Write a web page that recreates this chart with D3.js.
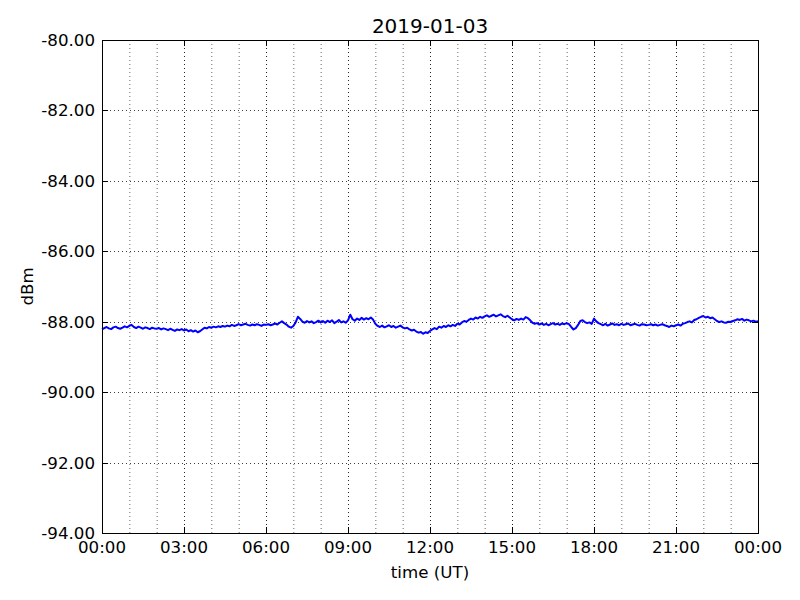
<!DOCTYPE html>
<html>
<head>
<meta charset="utf-8">
<script src="https://cdn.jsdelivr.net/npm/d3@7"></script>
<style>
body{margin:0;background:#fff;}
text{font-family:"DejaVu Sans",sans-serif;}
</style>
</head>
<body>
<svg id="chart" width="800" height="600"></svg>
<script>
const title = "2019-01-03";
const xLabel = "time (UT)";
const yLabel = "dBm";
const xTickHours = [0,3,6,9,12,15,18,21,24];
const xTickLabels = ["00:00","03:00","06:00","09:00","12:00","15:00","18:00","21:00","00:00"];
const yTicks = [-94,-92,-90,-88,-86,-84,-82,-80];
// signal level, one value every 5 minutes, 00:00 to 24:00
const dbm = [
-88.22,-88.18,-88.15,-88.19,-88.21,-88.16,-88.14,-88.18,-88.20,-88.17,-88.13,-88.16,
-88.12,-88.09,-88.15,-88.18,-88.14,-88.17,-88.20,-88.16,-88.18,-88.21,-88.17,-88.19,
-88.20,-88.18,-88.22,-88.19,-88.21,-88.24,-88.20,-88.23,-88.26,-88.22,-88.24,-88.21,
-88.25,-88.22,-88.27,-88.24,-88.28,-88.25,-88.30,-88.27,-88.22,-88.17,-88.19,-88.15,
-88.17,-88.14,-88.16,-88.13,-88.15,-88.12,-88.14,-88.11,-88.13,-88.09,-88.12,-88.10,
-88.07,-88.10,-88.08,-88.06,-88.09,-88.11,-88.08,-88.10,-88.07,-88.09,-88.12,-88.08,
-88.09,-88.07,-88.10,-88.08,-88.05,-88.08,-88.03,-87.99,-88.04,-88.08,-88.14,-88.17,
-88.12,-88.02,-87.86,-87.92,-88.00,-88.03,-87.98,-88.02,-87.99,-88.04,-88.01,-87.97,
-88.02,-87.98,-88.03,-87.97,-88.01,-87.96,-88.04,-88.00,-87.95,-88.02,-87.99,-88.03,
-87.96,-87.80,-87.93,-87.97,-87.91,-87.95,-87.89,-87.94,-87.90,-87.93,-87.88,-87.94,
-88.06,-88.12,-88.15,-88.11,-88.16,-88.13,-88.10,-88.15,-88.12,-88.17,-88.14,-88.11,
-88.16,-88.19,-88.17,-88.22,-88.25,-88.23,-88.28,-88.31,-88.29,-88.34,-88.30,-88.32,
-88.26,-88.22,-88.18,-88.21,-88.14,-88.17,-88.12,-88.15,-88.10,-88.13,-88.09,-88.12,
-88.06,-88.08,-88.02,-87.98,-88.00,-87.95,-87.91,-87.94,-87.88,-87.91,-87.86,-87.89,
-87.85,-87.82,-87.86,-87.83,-87.80,-87.85,-87.82,-87.79,-87.84,-87.87,-87.83,-87.88,
-87.93,-87.96,-87.92,-87.95,-87.91,-87.94,-87.87,-87.90,-87.96,-88.03,-88.06,-88.04,
-88.08,-88.05,-88.09,-88.06,-88.10,-88.07,-88.04,-88.08,-88.06,-88.09,-88.05,-88.07,
-88.04,-88.07,-88.15,-88.22,-88.18,-88.09,-87.98,-87.96,-88.01,-88.04,-88.02,-88.06,
-87.91,-87.99,-88.04,-88.07,-88.10,-88.06,-88.11,-88.08,-88.05,-88.09,-88.07,-88.10,
-88.06,-88.09,-88.07,-88.05,-88.10,-88.08,-88.06,-88.09,-88.11,-88.07,-88.08,-88.10,
-88.09,-88.07,-88.10,-88.08,-88.11,-88.09,-88.07,-88.10,-88.12,-88.15,-88.11,-88.13,
-88.10,-88.08,-88.11,-88.06,-88.04,-88.01,-87.99,-88.02,-87.95,-87.93,-87.89,-87.86,
-87.84,-87.88,-87.86,-87.90,-87.88,-87.93,-87.98,-88.01,-87.99,-88.02,-88.03,-88.00,
-88.01,-87.98,-87.96,-87.93,-87.95,-87.92,-87.97,-87.94,-87.96,-87.99,-87.97,-88.00,
-87.99
];
const stepMinutes = 5;

const L = 102, R = 758, T = 40, B = 533;
const svg = d3.select("#chart");
const x = d3.scaleLinear().domain([0,24]).range([L,R]);
const y = d3.scaleLinear().domain([-94,-80]).range([B,T]);

// grid
const hours = d3.range(1,24);
svg.append("g").selectAll("line").data(hours).join("line")
  .attr("x1",d=>x(d)+0.5).attr("x2",d=>x(d)+0.5).attr("y1",T).attr("y2",B)
  .attr("stroke","#000").attr("stroke-width",1).attr("stroke-dasharray","1,3")
  .attr("stroke-opacity",d=>d%3===0?0.85:0.6);
svg.append("g").selectAll("line").data(yTicks.slice(1,-1)).join("line")
  .attr("x1",L).attr("x2",R).attr("y1",d=>Math.round(y(d))+0.5).attr("y2",d=>Math.round(y(d))+0.5)
  .attr("stroke","#000").attr("stroke-width",1).attr("stroke-dasharray","1,3").attr("stroke-opacity",0.75);

// data line
const line = d3.line().x((d,i)=>x(i*stepMinutes/60)).y(d=>y(d));
svg.append("path").datum(dbm).attr("d",line)
  .attr("fill","none").attr("stroke","#0000ff").attr("stroke-width",2).attr("stroke-linejoin","round");

// ticks (inward, all four sides)
const tk = svg.append("g").attr("stroke","#000").attr("stroke-width",1);
xTickHours.forEach(h=>{
  const px = Math.round(x(h))+0.5;
  tk.append("line").attr("x1",px).attr("x2",px).attr("y1",B).attr("y2",B-6);
  tk.append("line").attr("x1",px).attr("x2",px).attr("y1",T).attr("y2",T+6);
});
yTicks.forEach(v=>{
  const py = Math.round(y(v))+0.5;
  tk.append("line").attr("x1",L).attr("x2",L+6).attr("y1",py).attr("y2",py);
  tk.append("line").attr("x1",R).attr("x2",R-6).attr("y1",py).attr("y2",py);
});

// frame
svg.append("rect").attr("x",L+0.5).attr("y",T+0.5).attr("width",R-L).attr("height",B-T)
  .attr("fill","none").attr("stroke","#000").attr("stroke-width",1);

// tick labels
svg.append("g").selectAll("text").data(xTickHours).join("text")
  .attr("x",d=>x(d)).attr("y",552.5).attr("text-anchor","middle")
  .attr("font-size","16.67px").attr("fill","#000").text((d,i)=>xTickLabels[i]);
svg.append("g").selectAll("text").data(yTicks).join("text")
  .attr("x",95).attr("y",d=>y(d)+6).attr("text-anchor","end")
  .attr("font-size","16.67px").attr("fill","#000").text(d=>d.toFixed(2));

// labels
svg.append("text").attr("x",(L+R)/2).attr("y",578).attr("text-anchor","middle")
  .attr("font-size","16.67px").text(xLabel);
svg.append("text").attr("transform",`translate(33,${(T+B)/2}) rotate(-90)`)
  .attr("text-anchor","middle").attr("font-size","16.67px").text(yLabel);
svg.append("text").attr("x",(L+R)/2).attr("y",33).attr("text-anchor","middle")
  .attr("font-size","20px").text(title);
</script>
</body>
</html>
